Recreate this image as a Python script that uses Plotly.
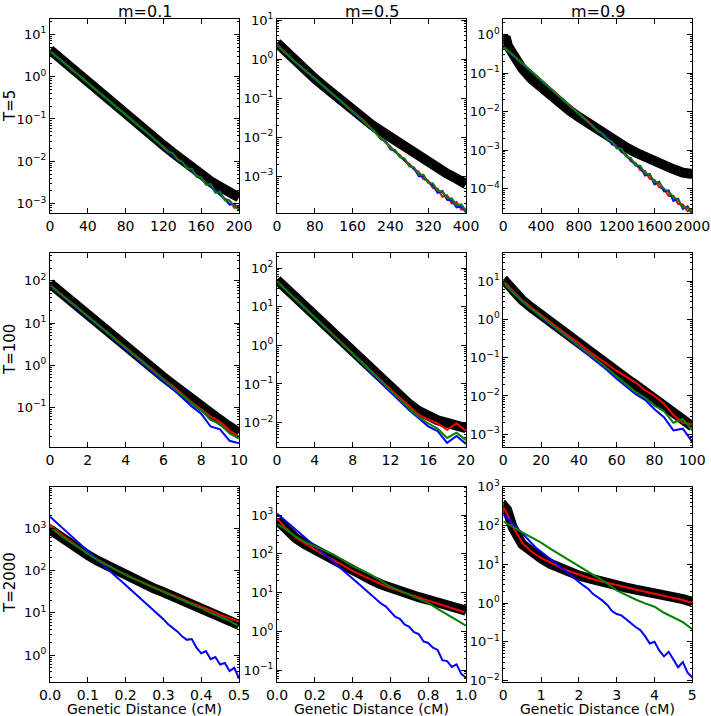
import plotly.graph_objects as go

# ---------------- data ----------------
col_titles = ["m=0.1", "m=0.5", "m=0.9"]
row_titles = ["T=5", "T=100", "T=2000"]
x_title = "Genetic Distance (cM)"

# Row 1 (T=5)
x_r1c1 = [0, 10, 20, 30, 40, 50, 60, 70, 80, 90, 100, 110, 120, 130, 140, 150, 160, 170, 180, 190, 200]
k_r1c1 = [4.3, 2.75, 1.8, 1.17, 0.76, 0.49, 0.32, 0.21, 0.135, 0.087, 0.056, 0.037, 0.024, 0.016, 0.0105, 0.0071, 0.0048, 0.0034, 0.0025, 0.0019, 0.0014]
xc_r1c1 = [0, 20, 40, 60, 80, 100, 110, 120, 125, 130, 135, 140, 145, 150, 155, 160, 165, 170, 175, 180, 185, 190, 195, 200]
r_r1c1 = [4.1, 1.72, 0.73, 0.31, 0.13, 0.054, 0.035, 0.023, 0.018, 0.0145, 0.012, 0.0092, 0.0075, 0.0058, 0.0047, 0.0037, 0.0031, 0.0026, 0.0019, 0.0017, 0.0013, 0.0012, 0.0008, 0.00085]
b_r1c1 = [4.0, 1.7, 0.72, 0.3, 0.128, 0.053, 0.034, 0.021, 0.0175, 0.014, 0.0108, 0.0095, 0.0072, 0.006, 0.0044, 0.0039, 0.003, 0.0025, 0.0021, 0.0016, 0.0013, 0.00095, 0.001, 0.0007]
g_r1c1 = [4.0, 1.7, 0.72, 0.3, 0.13, 0.053, 0.034, 0.022, 0.017, 0.0155, 0.011, 0.0098, 0.0068, 0.0066, 0.0045, 0.0042, 0.0028, 0.0029, 0.0018, 0.0019, 0.0012, 0.00115, 0.0009, 0.0007]

x_r1c2 = [0, 20, 40, 60, 80, 100, 120, 140, 160, 180, 200, 220, 240, 260, 280, 300, 320, 340, 360, 380, 400]
k_r1c2 = [2.6, 1.48, 0.87, 0.52, 0.32, 0.2, 0.123, 0.078, 0.049, 0.032, 0.021, 0.0145, 0.010, 0.0068, 0.0047, 0.0032, 0.0022, 0.0016, 0.00117, 0.00087, 0.00063]
xc_r1c2 = [0, 40, 80, 120, 160, 180, 200, 210, 220, 230, 240, 250, 260, 270, 280, 290, 300, 310, 320, 330, 340, 350, 360, 370, 380, 390, 400]
r_r1c2 = [2.4, 0.82, 0.315, 0.121, 0.048, 0.029, 0.017, 0.0122, 0.0098, 0.0072, 0.0058, 0.0042, 0.0035, 0.0025, 0.0021, 0.0015, 0.0013, 0.00085, 0.00078, 0.0005, 0.00048, 0.0003, 0.00033, 0.0002, 0.00022, 0.00014, 0.00015]
b_r1c2 = [2.3, 0.8, 0.31, 0.118, 0.046, 0.027, 0.0162, 0.013, 0.0088, 0.0081, 0.0049, 0.0045, 0.0032, 0.0026, 0.0019, 0.0016, 0.0010, 0.001, 0.0007, 0.00058, 0.00038, 0.00042, 0.00025, 0.00024, 0.00016, 0.00017, 0.00012]
g_r1c2 = [2.3, 0.81, 0.32, 0.12, 0.047, 0.028, 0.0166, 0.0128, 0.0092, 0.0078, 0.0052, 0.0047, 0.0031, 0.0029, 0.0018, 0.0017, 0.0011, 0.0011, 0.00068, 0.00066, 0.00043, 0.0004, 0.00028, 0.00027, 0.00018, 0.00019, 0.00013]

x_r1c3 = [0, 25, 50, 100, 150, 200, 300, 400, 500, 600, 700, 800, 900, 1000, 1100, 1200, 1300, 1400, 1500, 1600, 1700, 1800, 1900, 2000]
k_r1c3 = [0.72, 0.86, 0.5, 0.31, 0.19, 0.13, 0.069, 0.042, 0.026, 0.016, 0.0107, 0.0072, 0.0049, 0.0033, 0.0023, 0.00162, 0.00117, 0.00087, 0.00065, 0.0005, 0.0004, 0.00032, 0.00026, 0.00024]
xc_r1c3 = [0, 50, 100, 200, 300, 400, 500, 600, 700, 800, 900, 1000, 1050, 1100, 1150, 1200, 1250, 1300, 1350, 1400, 1450, 1500, 1550, 1600, 1650, 1700, 1750, 1800, 1850, 1900, 1950, 2000]
r_r1c3 = [0.5, 0.38, 0.295, 0.18, 0.108, 0.066, 0.04, 0.0245, 0.0148, 0.009, 0.0055, 0.0031, 0.0025, 0.0021, 0.0015, 0.0013, 0.00088, 0.00078, 0.00052, 0.00047, 0.0003, 0.00029, 0.00018, 0.00017, 0.00011, 0.000098, 0.000065, 0.000066, 0.00004, 0.000039, 0.000026, 0.000028]
b_r1c3 = [0.47, 0.36, 0.285, 0.175, 0.105, 0.064, 0.039, 0.0236, 0.0143, 0.0088, 0.0052, 0.0033, 0.0024, 0.0022, 0.0014, 0.00125, 0.00092, 0.00072, 0.00055, 0.0004, 0.00036, 0.00022, 0.00024, 0.00013, 0.00015, 0.000085, 0.00009, 0.000048, 0.000055, 0.00003, 0.000035, 0.000022]
g_r1c3 = [0.48, 0.37, 0.29, 0.178, 0.107, 0.065, 0.04, 0.024, 0.0145, 0.0089, 0.0054, 0.0032, 0.0027, 0.0019, 0.0017, 0.0011, 0.0011, 0.00068, 0.00062, 0.00041, 0.00039, 0.00025, 0.00023, 0.00015, 0.00014, 0.0001, 0.000082, 0.00006, 0.000052, 0.000033, 0.000032, 0.000025]

# Row 2 (T=100)
x_r2c1 = [0, 0.5, 1, 1.5, 2, 2.5, 3, 3.5, 4, 4.5, 5, 5.5, 6, 6.5, 7, 7.5, 8, 8.5, 9, 9.5, 10]
k_r2c1 = [87, 56, 37, 24, 15.8, 10.2, 6.8, 4.4, 2.9, 1.86, 1.23, 0.79, 0.52, 0.35, 0.23, 0.155, 0.105, 0.072, 0.05, 0.035, 0.025]
r_r2c1 = [80, 52, 34, 22, 14.5, 9.5, 6.2, 4.0, 2.6, 1.7, 1.12, 0.74, 0.46, 0.32, 0.2, 0.13, 0.09, 0.06, 0.045, 0.028, 0.02]
b_r2c1 = [78, 51, 33, 21.5, 14, 9.1, 5.9, 3.8, 2.45, 1.55, 0.98, 0.64, 0.41, 0.27, 0.17, 0.105, 0.07, 0.035, 0.03, 0.016, 0.014]
g_r2c1 = [79, 52, 34, 22, 14.3, 9.4, 6.1, 3.95, 2.55, 1.65, 1.07, 0.7, 0.45, 0.3, 0.19, 0.125, 0.085, 0.05, 0.04, 0.024, 0.018]

x_r2c2 = [0, 1, 2, 3, 4, 5, 6, 7, 8, 9, 10, 11, 12, 13, 14, 15, 16, 17, 18, 19, 20]
k_r2c2 = [50, 29.5, 17, 10, 5.75, 3.4, 2.0, 1.15, 0.68, 0.39, 0.23, 0.135, 0.078, 0.048, 0.030, 0.020, 0.014, 0.0115, 0.0098, 0.0082, 0.0072]
r_r2c2 = [46, 27, 16, 9.3, 5.4, 3.2, 1.9, 1.1, 0.64, 0.37, 0.215, 0.125, 0.072, 0.043, 0.026, 0.016, 0.012, 0.0095, 0.0065, 0.0095, 0.0062]
b_r2c2 = [45, 26.5, 15.5, 9.0, 5.2, 3.05, 1.8, 1.03, 0.6, 0.34, 0.19, 0.11, 0.062, 0.036, 0.021, 0.013, 0.008, 0.006, 0.003, 0.0045, 0.0028]
g_r2c2 = [45, 26.5, 15.7, 9.1, 5.3, 3.1, 1.82, 1.05, 0.61, 0.35, 0.2, 0.115, 0.066, 0.039, 0.023, 0.014, 0.0095, 0.007, 0.004, 0.0055, 0.0035]

x_r2c3 = [0, 5, 10, 15, 20, 25, 30, 35, 40, 45, 50, 55, 60, 65, 70, 75, 80, 85, 90, 95, 100]
k_r2c3 = [11.2, 5.75, 3.16, 2.0, 1.29, 0.81, 0.52, 0.35, 0.23, 0.148, 0.095, 0.063, 0.043, 0.029, 0.0195, 0.0132, 0.0087, 0.0056, 0.0039, 0.0024, 0.0016]
r_r2c3 = [10, 5.5, 3.16, 2.0, 1.29, 0.83, 0.54, 0.355, 0.24, 0.15, 0.1, 0.066, 0.045, 0.032, 0.0224, 0.0141, 0.01, 0.0063, 0.0032, 0.002, 0.0018]
b_r2c3 = [8.9, 5.0, 2.9, 1.8, 1.17, 0.74, 0.47, 0.3, 0.19, 0.12, 0.076, 0.047, 0.028, 0.0178, 0.0112, 0.0079, 0.0045, 0.0028, 0.00126, 0.0014, 0.00063]
g_r2c3 = [8.9, 5.1, 2.95, 1.86, 1.2, 0.76, 0.49, 0.32, 0.2, 0.129, 0.083, 0.052, 0.032, 0.02, 0.0126, 0.0089, 0.0056, 0.004, 0.002, 0.0025, 0.00126]

# Row 3 (T=2000)
x_r3c1 = [0, 0.025, 0.05, 0.075, 0.1, 0.125, 0.15, 0.175, 0.2, 0.225, 0.25, 0.275, 0.3, 0.325, 0.35, 0.375, 0.4, 0.425, 0.45, 0.475, 0.5]
k_r3c1 = [955, 645, 457, 324, 234, 174, 132, 100, 78, 60, 48, 38, 31, 24.5, 19.5, 15.5, 12.6, 10, 7.9, 6.5, 5.2]
r_r3c1 = [1250, 780, 530, 360, 250, 185, 138, 105, 81, 63, 50, 40, 32, 26, 21, 17, 14, 11.5, 9, 7.5, 6.2]
g_r3c1 = [1100, 720, 500, 350, 245, 180, 136, 103, 80, 62, 49, 39, 31.5, 25, 20, 16, 13, 10, 8, 6.5, 4.8]
xb_r3c1 = [0, 0.0125, 0.025, 0.0375, 0.05, 0.0625, 0.075, 0.0875, 0.1, 0.1125, 0.125, 0.1375, 0.15, 0.1625, 0.175, 0.1875, 0.2, 0.2125, 0.225, 0.2375, 0.25,
           0.2625, 0.275, 0.2875, 0.3, 0.3125, 0.325, 0.3375, 0.35, 0.3625, 0.375, 0.3875, 0.4, 0.4125, 0.425, 0.4375, 0.45, 0.4625, 0.475, 0.4875, 0.5]
b_r3c1 = [1900, 1500, 1200, 940, 740, 590, 470, 370, 295, 235, 186, 146, 115, 92, 72, 58, 46, 37, 29, 22.5, 17.8,
          14.5, 11.2, 9.2, 7.1, 5.4, 4.5, 3.6, 2.75, 2.3, 2.4, 1.5, 1.1, 1.25, 0.8, 0.9, 0.6, 0.65, 0.42, 0.5, 0.28]

x_r3c2 = [0, 0.05, 0.1, 0.15, 0.2, 0.25, 0.3, 0.35, 0.4, 0.45, 0.5, 0.55, 0.6, 0.65, 0.7, 0.75, 0.8, 0.85, 0.9, 0.95, 1.0]
k_r3c2 = [740, 417, 251, 174, 126, 93, 69, 49, 35, 27, 21, 16.2, 12.9, 10.7, 9.1, 7.6, 6.5, 5.4, 4.6, 3.9, 3.4]
r_r3c2 = [800, 440, 260, 178, 128, 94, 70, 50, 36, 27.5, 21, 16.5, 13, 10.8, 9.0, 7.5, 6.3, 5.2, 4.4, 3.7, 3.0]
g_r3c2 = [600, 400, 275, 200, 158, 123, 95, 68, 48, 37, 28, 20, 14.1, 11.2, 8.7, 6.9, 5.4, 3.8, 2.7, 2.0, 1.4]
xb_r3c2 = [0, 0.025, 0.05, 0.075, 0.1, 0.125, 0.15, 0.175, 0.2, 0.225, 0.25, 0.275, 0.3, 0.325, 0.35, 0.375, 0.4, 0.425, 0.45, 0.475, 0.5,
           0.525, 0.55, 0.575, 0.6, 0.625, 0.65, 0.675, 0.7, 0.725, 0.75, 0.775, 0.8, 0.825, 0.85, 0.875, 0.9, 0.925, 0.95, 0.975, 1.0]
b_r3c2 = [1100, 860, 676, 530, 417, 327, 257, 202, 158, 124, 98, 77, 60, 47, 37, 29, 23, 18, 14.1, 11, 8.7,
          7.0, 5.2, 4.4, 3.3, 2.4, 2.1, 1.5, 1.3, 0.95, 0.85, 0.55, 0.5, 0.38, 0.33, 0.18, 0.17, 0.12, 0.14, 0.08, 0.063]

x_r3c3 = [0, 0.05, 0.1, 0.15, 0.25, 0.5, 0.75, 1.0, 1.25, 1.5, 1.75, 2.0, 2.25, 2.5, 2.75, 3.0, 3.25, 3.5, 3.75, 4.0, 4.25, 4.5, 4.75, 5.0]
k_r3c3 = [250, 290, 255, 170, 89, 33, 20, 14.1, 10.2, 7.9, 6.3, 5.1, 4.4, 3.7, 3.2, 2.9, 2.5, 2.2, 1.9, 1.74, 1.58, 1.41, 1.26, 1.07]
r_r3c3 = [282, 250, 200, 150, 95, 35.5, 21, 14.5, 10.7, 8.3, 6.6, 5.4, 4.5, 3.8, 3.3, 2.9, 2.5, 2.24, 1.95, 1.74, 1.55, 1.38, 1.2, 1.0]
g_r3c3 = [126, 119, 112, 105, 93, 66, 49, 36, 25, 17.8, 12.6, 9.1, 6.6, 4.6, 3.2, 2.1, 1.58, 1.23, 0.98, 0.8, 0.56, 0.42, 0.32, 0.21]
xb_r3c3 = [0, 0.125, 0.25, 0.375, 0.5, 0.625, 0.75, 0.875, 1.0, 1.125, 1.25, 1.375, 1.5, 1.625, 1.75, 1.875, 2.0, 2.125, 2.25, 2.375, 2.5,
           2.625, 2.75, 2.875, 3.0, 3.125, 3.25, 3.375, 3.5, 3.625, 3.75, 3.875, 4.0, 4.125, 4.25, 4.375, 4.5, 4.625, 4.75, 4.875, 5.0]
b_r3c3 = [190, 150, 112, 85, 63, 45, 34, 26, 21, 17, 13.5, 10.8, 8.7, 7.0, 5.5, 4.3, 3.5, 2.8, 2.3, 1.7, 1.41,
          1.15, 0.89, 0.62, 0.52, 0.48, 0.38, 0.3, 0.24, 0.2, 0.14, 0.09, 0.1, 0.06, 0.042, 0.055, 0.035, 0.022, 0.03, 0.016, 0.012]

# tick labels
xticks_r1 = [[0, 40, 80, 120, 160, 200], [0, 80, 160, 240, 320, 400], [0, 400, 800, 1200, 1600, 2000]]
xticks_r2 = [[0, 2, 4, 6, 8, 10], [0, 4, 8, 12, 16, 20], [0, 20, 40, 60, 80, 100]]
xticks_r3 = [[0, 0.1, 0.2, 0.3, 0.4, 0.5], [0, 0.2, 0.4, 0.6, 0.8, 1.0], [0, 1, 2, 3, 4, 5]]
xticktext_r3 = [["0.0", "0.1", "0.2", "0.3", "0.4", "0.5"], ["0.0", "0.2", "0.4", "0.6", "0.8", "1.0"], ["0", "1", "2", "3", "4", "5"]]
ytick_exps = [
    [[1, 0, -1, -2, -3], [1, 0, -1, -2, -3], [0, -1, -2, -3, -4]],
    [[2, 1, 0, -1], [2, 1, 0, -1, -2], [1, 0, -1, -2, -3]],
    [[3, 2, 1, 0], [3, 2, 1, 0, -1], [3, 2, 1, 0, -1, -2]],
]

# ---------------- layout geometry ----------------
W, H = 711, 716
col_px = [(50, 239), (277, 466), (503.3, 692.3)]
row_px = [(19, 213), (252.7, 447.3), (486.7, 681.7)]
x_ranges = [[[0, 200], [0, 400], [0, 2000]],
            [[0, 10], [0, 20], [0, 100]],
            [[0, 0.5], [0, 1.0], [0, 5]]]
y_ranges = [[[-3.22, 1.36], [-3.94, 1.03], [-4.63, 0.40]],
            [[-1.95, 2.67], [-2.64, 2.40], [-3.34, 1.74]],
            [[-0.63, 3.99], [-1.30, 3.73], [-2.03, 3.0]]]

# per panel: (x, y) for black, red, blue, green
data = [
    [((x_r1c1, k_r1c1), (xc_r1c1, r_r1c1), (xc_r1c1, b_r1c1), (xc_r1c1, g_r1c1)),
     ((x_r1c2, k_r1c2), (xc_r1c2, r_r1c2), (xc_r1c2, b_r1c2), (xc_r1c2, g_r1c2)),
     ((x_r1c3, k_r1c3), (xc_r1c3, r_r1c3), (xc_r1c3, b_r1c3), (xc_r1c3, g_r1c3))],
    [((x_r2c1, k_r2c1), (x_r2c1, r_r2c1), (x_r2c1, b_r2c1), (x_r2c1, g_r2c1)),
     ((x_r2c2, k_r2c2), (x_r2c2, r_r2c2), (x_r2c2, b_r2c2), (x_r2c2, g_r2c2)),
     ((x_r2c3, k_r2c3), (x_r2c3, r_r2c3), (x_r2c3, b_r2c3), (x_r2c3, g_r2c3))],
    [((x_r3c1, k_r3c1), (x_r3c1, r_r3c1), (xb_r3c1, b_r3c1), (x_r3c1, g_r3c1)),
     ((x_r3c2, k_r3c2), (x_r3c2, r_r3c2), (xb_r3c2, b_r3c2), (x_r3c2, g_r3c2)),
     ((x_r3c3, k_r3c3), (x_r3c3, r_r3c3), (xb_r3c3, b_r3c3), (x_r3c3, g_r3c3))],
]
styles = [("black", 10), ("#ff0000", 2), ("#0000ff", 2), ("#008000", 2)]

FONT = "DejaVu Sans"
fig = go.Figure()
layout = dict(width=W, height=H, margin=dict(l=0, r=0, t=0, b=0, pad=0, autoexpand=False),
              paper_bgcolor="white", plot_bgcolor="white", showlegend=False,
              font=dict(family=FONT, size=14, color="black"))


def sup(e):
    s = str(e).replace("-", "\u2212")
    return "10<sup>" + s + "</sup>"


annotations = []
idx = 0
for r in range(3):
    for c in range(3):
        idx += 1
        xa = "xaxis" if idx == 1 else "xaxis%d" % idx
        ya = "yaxis" if idx == 1 else "yaxis%d" % idx
        xr = "x" if idx == 1 else "x%d" % idx
        yr = "y" if idx == 1 else "y%d" % idx
        for (xs, ys), (colr, w) in zip(data[r][c], styles):
            fig.add_trace(go.Scatter(x=xs, y=ys, mode="lines", xaxis=xr, yaxis=yr,
                                     line=dict(color=colr, width=w), hoverinfo="skip"))
        if r == 0:
            xt = xticks_r1[c]; xtt = [str(v) for v in xt]
        elif r == 1:
            xt = xticks_r2[c]; xtt = [str(v) for v in xt]
        else:
            xt = xticks_r3[c]; xtt = xticktext_r3[c]
        x0, x1 = col_px[c]
        y0, y1 = row_px[r]
        layout[xa] = dict(domain=[x0 / W, x1 / W], range=x_ranges[r][c], anchor=yr,
                          tickmode="array", tickvals=xt, ticktext=xtt, automargin=False, tickangle=0,
                          ticklabeloverflow="allow",
                          ticks="inside", ticklen=5, tickcolor="black", tickwidth=1,
                          showline=True, linecolor="black", linewidth=1, mirror="ticks",
                          showgrid=False, zeroline=False, tickfont=dict(size=14))
        exps = ytick_exps[r][c]
        lo, hi = y_ranges[r][c]
        minor_vals = []
        for e in range(int(lo) - 2, int(hi) + 2):
            for m in range(2, 10):
                minor_vals.append(m * 10 ** e)
        layout[ya] = dict(domain=[1 - y1 / H, 1 - y0 / H], type="log", range=[lo, hi], anchor=xr,
                          tickmode="array", tickvals=[10 ** e for e in exps], ticktext=[sup(e) for e in exps],
                          ticks="inside", ticklen=5, tickcolor="black", tickwidth=1, automargin=False,
                          ticklabeloverflow="allow",
                          minor=dict(tickmode="array", tickvals=minor_vals, ticks="inside", ticklen=2,
                                     tickcolor="black", showgrid=False),
                          showline=True, linecolor="black", linewidth=1, mirror="ticks",
                          showgrid=False, zeroline=False, tickfont=dict(size=13))

for c in range(3):
    x0, x1 = col_px[c]
    annotations.append(dict(text=col_titles[c], x=(x0 + x1) / 2 / W, y=1.0, xref="paper", yref="paper",
                            showarrow=False, font=dict(size=16, family=FONT), xanchor="center", yanchor="top"))
    annotations.append(dict(text=x_title, x=(x0 + x1) / 2 / W, y=1 - 709 / H, xref="paper", yref="paper",
                            showarrow=False, font=dict(size=14, family=FONT), xanchor="center", yanchor="middle"))
row_centers = [106, 350, 583]
for r in range(3):
    annotations.append(dict(text=row_titles[r], x=10 / W, y=1 - row_centers[r] / H, xref="paper", yref="paper",
                            showarrow=False, textangle=-90, font=dict(size=15, family=FONT),
                            xanchor="center", yanchor="middle"))
layout["annotations"] = annotations
fig.update_layout(**layout)
fig.write_html("out.html", config={"displayModeBar": False},
               post_script="document.body.style.margin='0px';")
